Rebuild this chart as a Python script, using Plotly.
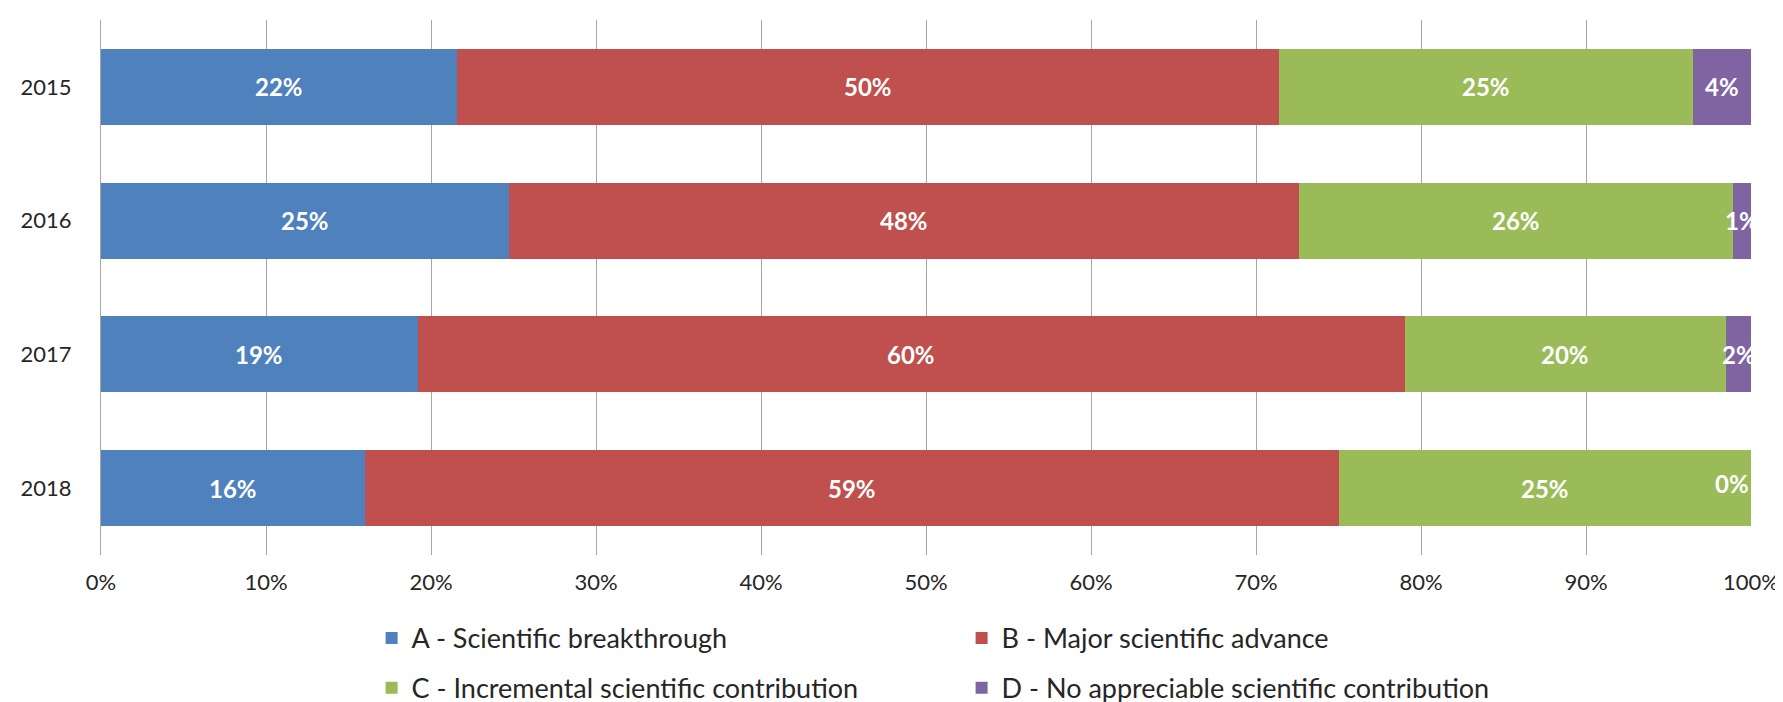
import plotly.graph_objects as go

years = ["2015", "2016", "2017", "2018"]
series_names = [
    "A - Scientific breakthrough",
    "B - Major scientific advance",
    "C - Incremental scientific contribution",
    "D - No appreciable scientific contribution",
]
a_vals = [21.6, 24.7, 19.2, 16.0]
b_vals = [49.8, 47.9, 59.8, 59.0]
c_vals = [25.1, 26.3, 19.5, 25.0]
d_vals = [3.5, 1.1, 1.5, 0.0]
x_ticks = [0, 10, 20, 30, 40, 50, 60, 70, 80, 90, 100]

colors = ["#4F81BD", "#C0504D", "#9BBB59", "#8064A2"]
FONT = "Lato, 'Open Sans', sans-serif"
TXT = "#262626"

all_vals = [a_vals, b_vals, c_vals, d_vals]
fig = go.Figure()
legends = ["legend", "legend", "legend2", "legend2"]
for name, vals, col, lg in zip(series_names, all_vals, colors, legends):
    fig.add_trace(go.Bar(
        y=years, x=vals, name=name, orientation="h",
        marker=dict(color=col, line=dict(width=0)),
        legend=lg, hoverinfo="skip",
    ))

# data labels centred on each segment (y given as category index)
LBL = dict(family=FONT, size=24, color="white", weight="bold")
annotations = []
for i, yr in enumerate(years):
    cum = 0.0
    for vals in all_vals:
        v = vals[i]
        center = cum + v / 2.0
        label = f"{int(v + 0.5)}%"
        if v == 0:
            annotations.append(dict(x=cum, y=i, xref="x", yref="y", text=label,
                                    showarrow=False, xanchor="right", yshift=5, font=LBL))
        else:
            annotations.append(dict(x=center, y=i, xref="x", yref="y", text=label,
                                    showarrow=False, xanchor="center", font=LBL))
        cum += v

fig.update_layout(
    width=1783, height=702,
    barmode="stack", bargap=0.43,
    plot_bgcolor="white", paper_bgcolor="white",
    margin=dict(l=93, r=40, t=12, b=155, autoexpand=False),
    font=dict(family=FONT, size=22, color=TXT),
    xaxis=dict(
        range=[0, 100], tickvals=x_ticks, ticktext=[f"{t}%" for t in x_ticks],
        showgrid=True, gridcolor="#A6A6A6", gridwidth=1,
        showline=False, zeroline=False, ticks="", ticklabelstandoff=12,
        tickfont=dict(size=22, color=TXT),
    ),
    yaxis=dict(
        type="category", categoryorder="array", categoryarray=years,
        range=[len(years) - 0.5, -0.5], autorange=False,
        showline=True, linecolor="#A6A6A6", linewidth=1,
        ticks="", ticklabelstandoff=24, showgrid=False,
        tickfont=dict(size=22, color=TXT),
    ),
    legend=dict(orientation="h", x=0.164, y=0.102, xref="paper", yref="container",
                xanchor="left", yanchor="middle",
                entrywidth=545, font=dict(size=27, color=TXT),
                traceorder="normal"),
    legend2=dict(orientation="h", x=0.164, y=0.031, xref="paper", yref="container",
                 xanchor="left", yanchor="middle",
                 entrywidth=545, font=dict(size=27, color=TXT),
                 traceorder="normal"),
    annotations=annotations,
    showlegend=True,
)

fig.write_html("out.html")
